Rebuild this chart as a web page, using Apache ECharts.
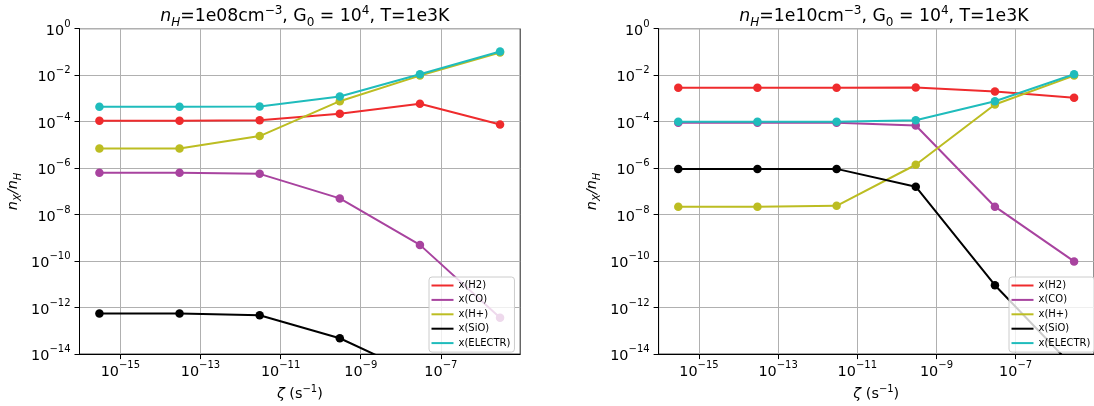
<!DOCTYPE html>
<html>
<head>
<meta charset="utf-8">
<script src="https://cdn.jsdelivr.net/npm/echarts@6/dist/echarts.min.js"></script>
<style>
html,body{margin:0;padding:0;background:#fff;}
#chart{width:1094px;height:406px;}
</style>
</head>
<body>
<div id="chart"></div>
<script>
// ---- data ----
const zetaValues = [3e-16, 3e-14, 3e-12, 3e-10, 3e-8, 3e-6];
const speciesNames = ['x(H2)', 'x(CO)', 'x(H+)', 'x(SiO)', 'x(ELECTR)'];
const xTickExponents = [-15, -13, -11, -9, -7];
const yTickExponents = [-14, -12, -10, -8, -6, -4, -2, 0];

// panel A: nH = 1e08 cm^-3
const h2A  = [1.1e-4, 1.1e-4, 1.15e-4, 2.2e-4, 5.9e-4, 7.5e-5];
const coA  = [6.3e-7, 6.3e-7, 5.7e-7, 5.0e-8, 5.0e-10, 3.7e-13];
const hpA  = [7.0e-6, 7.0e-6, 2.4e-5, 7.6e-4, 9.6e-3, 9.5e-2];
const sioA = [5.6e-13, 5.6e-13, 4.7e-13, 4.8e-14, 1.2e-15, 3.0e-17];
const elA  = [4.4e-4, 4.4e-4, 4.5e-4, 1.2e-3, 1.1e-2, 1.05e-1];

// panel B: nH = 1e10 cm^-3
const h2B  = [2.9e-3, 2.9e-3, 2.9e-3, 2.95e-3, 2.0e-3, 1.07e-3];
const coB  = [8.9e-5, 8.9e-5, 8.9e-5, 6.8e-5, 2.2e-8, 9.7e-11];
const hpB  = [2.2e-8, 2.2e-8, 2.4e-8, 1.4e-6, 5.5e-4, 9.6e-3];
const sioB = [9.3e-7, 9.3e-7, 9.3e-7, 1.6e-7, 9.2e-12, 2.6e-15];
const elB  = [1.0e-4, 1.0e-4, 1.0e-4, 1.15e-4, 7.6e-4, 1.1e-2];

const titleA = ['1e08', '4', '1e3'];
const titleB = ['1e10', '4', '1e3'];

// ---- styling ----
const FONT = 'DejaVu Sans';
const colors = ['#ef2b2d', '#a8439f', '#bcbd22', '#000000', '#1fbcbc'];

function pow10Label(v) {
  const e = Math.round(v);
  return '{b|10}{s|' + (e < 0 ? '\u2212' + (-e) : String(e)) + '}';
}
const tickRich = {
  b: {fontSize: 14.4, fontFamily: FONT, color: '#000', lineHeight: 19, verticalAlign: 'bottom'},
  s: {fontSize: 10, fontFamily: FONT, color: '#000', lineHeight: 10, verticalAlign: 'top'}
};
const nameRich = {
  i: {fontSize: 14.4, fontFamily: FONT, fontStyle: 'italic', color: '#000', lineHeight: 20, verticalAlign: 'middle'},
  r: {fontSize: 14.4, fontFamily: FONT, color: '#000', lineHeight: 20, verticalAlign: 'middle'},
  sub: {fontSize: 10, fontFamily: FONT, fontStyle: 'italic', color: '#000', lineHeight: 10, verticalAlign: 'bottom'},
  sup: {fontSize: 10, fontFamily: FONT, color: '#000', lineHeight: 10, verticalAlign: 'top'}
};
const titleRich = {
  i: {fontSize: 17.3, fontFamily: FONT, fontStyle: 'italic', fontWeight: 'normal', color: '#000', lineHeight: 24, verticalAlign: 'middle'},
  r: {fontSize: 17.3, fontFamily: FONT, fontWeight: 'normal', color: '#000', lineHeight: 24, verticalAlign: 'middle'},
  sub: {fontSize: 12, fontFamily: FONT, fontStyle: 'italic', fontWeight: 'normal', color: '#000', lineHeight: 12, verticalAlign: 'bottom'},
  subr: {fontSize: 12, fontFamily: FONT, fontWeight: 'normal', color: '#000', lineHeight: 12, verticalAlign: 'bottom'},
  sup: {fontSize: 12, fontFamily: FONT, fontWeight: 'normal', color: '#000', lineHeight: 12, verticalAlign: 'top'}
};
function titleText(t) {
  return '{i|n}{sub|H}{r|=' + t[0] + 'cm}{sup|\u22123}{r|, G}{subr|0}{r| = 10}{sup|' + t[1] + '}{r|, T=' + t[2] + 'K}';
}

const panels = [
  {left: 79.5, width: 440.7, min: -16.02, max: -5.02, title: titleText(titleA), series: [h2A, coA, hpA, sioA, elA], legendLeft: 429},
  {left: 658.6, width: 440.7, min: -16.02, max: -5.02, title: titleText(titleB), series: [h2B, coB, hpB, sioB, elB], legendLeft: 1009}
];
const gridTop = 28.7, gridHeight = 328.6;

const option = {
  backgroundColor: '#fff',
  animation: false,
  title: [], grid: [], xAxis: [], yAxis: [], legend: [], series: []
};

panels.forEach((p, k) => {
  option.title.push({
    text: p.title, left: p.left + p.width / 2, textAlign: 'center', top: 0,
    textStyle: {fontWeight: 'normal', rich: titleRich}
  });
  option.grid.push({
    left: p.left, top: gridTop, width: p.width, height: gridHeight,
    show: true, borderColor: '#222', borderWidth: 1, backgroundColor: 'transparent'
  });
  option.xAxis.push({
    type: 'value', gridIndex: k, min: p.min, max: p.max,
    name: '{i|\u03b6}{r| (s}{sup|\u22121}{r|)}', nameLocation: 'middle', nameGap: 28,
    nameTextStyle: {rich: nameRich},
    axisLine: {show: true, onZero: false, lineStyle: {color: '#000', width: 1}},
    axisTick: {show: true, length: 5, lineStyle: {color: '#000'}, customValues: xTickExponents},
    axisLabel: {customValues: xTickExponents, formatter: pow10Label, rich: tickRich, margin: 6},
    splitLine: {show: true, lineStyle: {color: '#b0b0b0', width: 1}}
  });
  option.yAxis.push({
    type: 'value', gridIndex: k, min: -14, max: 0, interval: 2,
    name: '{i|n}{sub|X}{i|/n}{sub|H}', nameLocation: 'middle', nameRotate: 90, nameGap: 56,
    nameTextStyle: {rich: nameRich},
    axisLine: {show: true, onZero: false, lineStyle: {color: '#000', width: 1}},
    axisTick: {show: true, length: 5, lineStyle: {color: '#000'}},
    axisLabel: {formatter: pow10Label, rich: tickRich, margin: 9},
    splitLine: {show: true, lineStyle: {color: '#b0b0b0', width: 1}}
  });
  option.legend.push({
    data: speciesNames, orient: 'vertical', left: p.legendLeft, top: 277,
    icon: 'rect', itemWidth: 22, itemHeight: 2, itemGap: 2.4,
    padding: [2.5, 4, 3, 2.5],
    backgroundColor: 'rgba(255,255,255,0.8)', borderColor: '#cccccc', borderWidth: 1, borderRadius: 3,
    textStyle: {fontSize: 10, fontFamily: FONT, color: '#000', lineHeight: 12},
    selectedMode: false, z: 10
  });
  p.series.forEach((vals, j) => {
    option.series.push({
      name: speciesNames[j], type: 'line', xAxisIndex: k, yAxisIndex: k,
      data: zetaValues.map((z, i) => [Math.log10(z), Math.log10(vals[i])]),
      symbol: 'circle', symbolSize: 8.5, clip: true,
      lineStyle: {color: colors[j], width: 2},
      itemStyle: {color: colors[j]},
      z: 2 + j * 0.1
    });
  });
});

const chart = echarts.init(document.getElementById('chart'), null, {renderer: 'canvas'});
chart.setOption(option);
</script>
</body>
</html>
